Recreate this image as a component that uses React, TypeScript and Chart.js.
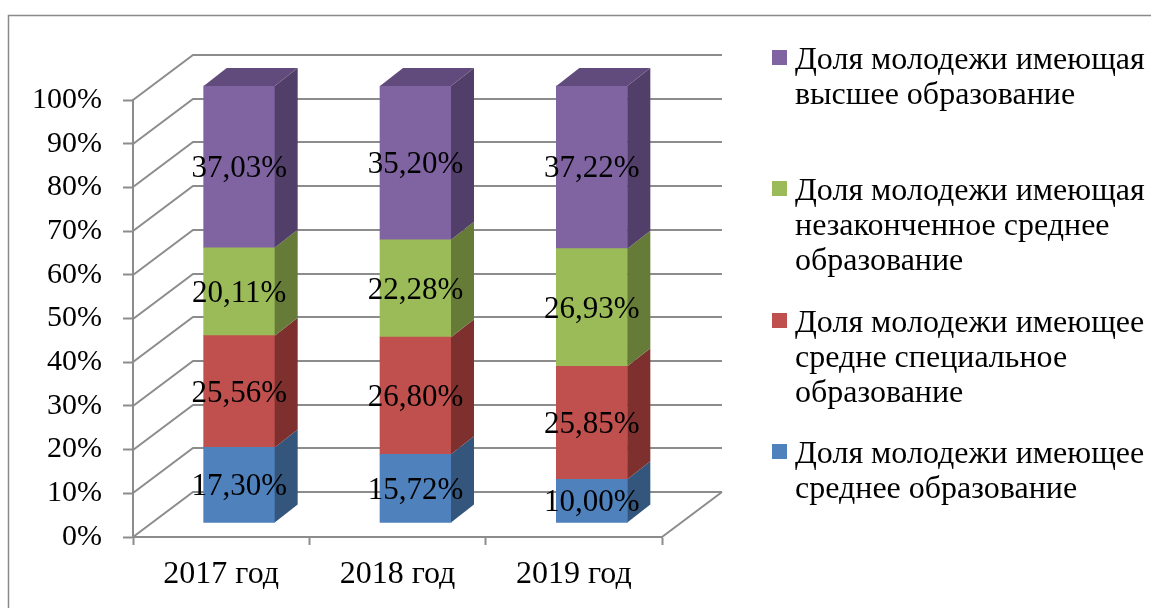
import React, { useEffect, useRef } from "react";
import { Chart, registerables } from "chart.js";

Chart.register(...registerables);

const categories = ["2017 год", "2018 год", "2019 год"];
const secondaryShare = [17.3, 15.72, 10.0];
const specialSecondaryShare = [25.56, 26.8, 25.85];
const incompleteSecondaryShare = [20.11, 22.28, 26.93];
const higherShare = [37.03, 35.2, 37.22];

const seriesNames = [
  "Доля молодежи имеющее среднее образование",
  "Доля молодежи имеющее средне специальное образование",
  "Доля молодежи имеющая незаконченное среднее образование",
  "Доля молодежи имеющая высшее образование",
];
const legendSecondary = ["Доля молодежи имеющее", "среднее образование"];
const legendSpecial = ["Доля молодежи имеющее", "средне специальное", "образование"];
const legendIncomplete = ["Доля молодежи имеющая", "незаконченное среднее", "образование"];
const legendHigher = ["Доля молодежи имеющая", "высшее образование"];

const FONT = "'Liberation Serif', 'Times New Roman', serif";
const GRID = "#8c8c8c";
const FRONT = ["#4F81BD", "#C0504D", "#9BBB59", "#8064A2"];
const SIDE = ["#34557C", "#7D302E", "#657B37", "#523F69"];
const TOP = ["#3E6594", "#96403D", "#7A9445", "#614B7C"];

const WX = 60;
const WY = -45;
const BX = 18;
const BY = -14;
const DX = 23;
const DY = -18;

const fmt = (v: number) => v.toFixed(2).replace(".", ",") + "%";

const threeD = {
  id: "threeD",
  beforeDraw(chart: any) {
    const ctx = chart.ctx;
    ctx.save();
    ctx.strokeStyle = "#8a8a8a";
    ctx.lineWidth = 1.5;
    ctx.strokeRect(8.5, 15.5, 1300, 800);
    ctx.restore();
  },
  beforeDatasetsDraw(chart: any) {
    const { ctx, chartArea, scales } = chart;
    const y = scales.y;
    ctx.save();
    ctx.strokeStyle = GRID;
    ctx.lineWidth = 2;
    y.ticks.forEach((t: any) => {
      const py = Math.round(y.getPixelForValue(t.value));
      ctx.beginPath();
      ctx.moveTo(chartArea.left, py);
      ctx.lineTo(chartArea.left + WX, py + WY);
      ctx.lineTo(chartArea.right + WX, py + WY);
      ctx.stroke();
    });
    ctx.beginPath();
    ctx.moveTo(chartArea.right, chartArea.bottom);
    ctx.lineTo(chartArea.right + WX, chartArea.bottom + WY);
    ctx.stroke();
    ctx.restore();
    ctx.save();
    ctx.translate(BX, BY);
  },
  afterDatasetsDraw(chart: any) {
    const ctx = chart.ctx;
    const n = chart.data.datasets.length;
    for (let i = 0; i < n; i++) {
      const meta = chart.getDatasetMeta(i);
      meta.data.forEach((el: any) => {
        const { x, y, base, width } = el.getProps(["x", "y", "base", "width"], true);
        const r = x + width / 2;
        const l = x - width / 2;
        ctx.fillStyle = SIDE[i];
        ctx.beginPath();
        ctx.moveTo(r, y);
        ctx.lineTo(r + DX, y + DY);
        ctx.lineTo(r + DX, base + DY);
        ctx.lineTo(r, base);
        ctx.closePath();
        ctx.fill();
        if (i === n - 1) {
          ctx.fillStyle = TOP[i];
          ctx.beginPath();
          ctx.moveTo(l, y);
          ctx.lineTo(l + DX, y + DY);
          ctx.lineTo(r + DX, y + DY);
          ctx.lineTo(r, y);
          ctx.closePath();
          ctx.fill();
        }
      });
    }
    ctx.fillStyle = "#000";
    ctx.font = "31px " + FONT;
    ctx.textAlign = "center";
    ctx.textBaseline = "middle";
    for (let i = 0; i < n; i++) {
      const meta = chart.getDatasetMeta(i);
      const values = chart.data.datasets[i].data;
      meta.data.forEach((el: any, j: number) => {
        const { x, y, base } = el.getProps(["x", "y", "base"], true);
        ctx.fillText(fmt(values[j]), x, (y + base) / 2 + 2);
      });
    }
    ctx.restore();
  },
  afterDraw(chart: any) {
    const ctx = chart.ctx;
    const items = [
      { lines: legendHigher, color: FRONT[3], base: 69 },
      { lines: legendIncomplete, color: FRONT[2], base: 200 },
      { lines: legendSpecial, color: FRONT[1], base: 332 },
      { lines: legendSecondary, color: FRONT[0], base: 463 },
    ];
    ctx.save();
    ctx.font = "32px " + FONT;
    ctx.textAlign = "left";
    ctx.textBaseline = "alphabetic";
    items.forEach((it) => {
      ctx.fillStyle = it.color;
      ctx.fillRect(772, it.base - 19, 15, 15);
      ctx.fillStyle = "#000";
      it.lines.forEach((line, k) => {
        ctx.fillText(line, 795, it.base + k * 35);
      });
    });
    ctx.restore();
  },
};

export default function App() {
  const ref = useRef<HTMLCanvasElement | null>(null);
  useEffect(() => {
    if (!ref.current) return;
    const series = [secondaryShare, specialSecondaryShare, incompleteSecondaryShare, higherShare];
    const chart = new Chart(ref.current, {
      type: "bar",
      data: {
        labels: categories,
        datasets: series.map((d, i) => ({
          label: seriesNames[i],
          data: d,
          backgroundColor: FRONT[i],
          borderWidth: 0,
          barThickness: 71,
          clip: false as any,
        })),
      },
      options: {
        animation: false,
        responsive: false,
        devicePixelRatio: 1,
        layout: { padding: { left: 0, top: 100, right: 489, bottom: 0 } },
        plugins: { legend: { display: false }, tooltip: { enabled: false } },
        scales: {
          x: {
            stacked: true,
            afterFit: (s: any) => {
              s.height = 71;
            },
            grid: {
              offset: true,
              drawOnChartArea: false,
              drawTicks: true,
              tickLength: 8,
              tickColor: GRID,
              tickWidth: 2,
            },
            border: { display: true, color: GRID, width: 2 },
            ticks: { color: "#000", font: { family: FONT, size: 32 }, padding: 10 },
          },
          y: {
            stacked: true,
            min: 0,
            max: 100,
            afterFit: (s: any) => {
              s.width = 133;
            },
            grid: {
              drawOnChartArea: false,
              drawTicks: true,
              tickLength: 10,
              tickColor: GRID,
              tickWidth: 2,
            },
            border: { display: true, color: GRID, width: 2 },
            ticks: {
              stepSize: 10,
              color: "#000",
              font: { family: FONT, size: 30 },
              padding: 21,
              callback: (v: any) => v + "%",
            },
          },
        },
      },
      plugins: [threeD],
    });
    return () => chart.destroy();
  }, []);
  return (
    <div style={{ position: "absolute", left: 0, top: 0, width: 1151, height: 608, background: "#fff" }}>
      <canvas ref={ref} width={1151} height={608} />
    </div>
  );
}
